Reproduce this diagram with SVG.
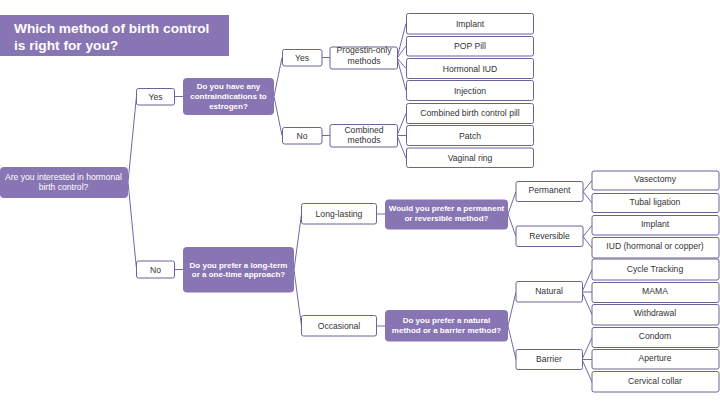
<svg xmlns="http://www.w3.org/2000/svg" width="720" height="405" viewBox="0 0 720 405">
<style>
.q{fill:#8875b3;}
.b{fill:#fff;stroke:#6e6199;stroke-width:1;}
.t{font-family:"Liberation Sans",Arial,sans-serif;font-size:8.6px;fill:#333;text-anchor:middle;}
.w{font-family:"Liberation Sans",Arial,sans-serif;font-size:8.6px;fill:#fff;text-anchor:middle;}
.wb{font-family:"Liberation Sans",Arial,sans-serif;font-size:8px;font-weight:bold;fill:#fff;text-anchor:middle;}
.title{font-family:"Liberation Sans",Arial,sans-serif;font-size:13.7px;font-weight:bold;fill:#fff;}
#connectors line{stroke:#7567a6;stroke-width:1;}
</style>
<rect width="720" height="405" fill="#fff"/>
<g id="title">
<rect x="0" y="15" width="229" height="41" class="q"/>
<text class="title" x="14" y="32.5">Which method of birth control</text>
<text class="title" x="14" y="50">is right for you?</text>
</g>
<g id="connectors">
<line x1="128" y1="182" x2="136.5" y2="96"/>
<line x1="128" y1="182" x2="136.5" y2="269"/>
<line x1="174" y1="96.5" x2="183" y2="96.5"/>
<line x1="174" y1="269.5" x2="183" y2="269.5"/>
<line x1="274" y1="96.5" x2="282" y2="57.5"/>
<line x1="274" y1="96.5" x2="282" y2="135.5"/>
<line x1="322" y1="57.5" x2="330" y2="57.5"/>
<line x1="322" y1="135.5" x2="330" y2="135.5"/>
<line x1="397" y1="58" x2="406" y2="23.5"/>
<line x1="397" y1="58" x2="406" y2="46"/>
<line x1="397" y1="58" x2="406" y2="68.5"/>
<line x1="397" y1="58" x2="406" y2="90.5"/>
<line x1="397" y1="135.5" x2="406" y2="113.5"/>
<line x1="397" y1="135.5" x2="406" y2="135.5"/>
<line x1="397" y1="135.5" x2="406" y2="158"/>
<line x1="294" y1="270" x2="301.5" y2="214"/>
<line x1="294" y1="270" x2="301.5" y2="326"/>
<line x1="376.5" y1="214" x2="385" y2="214"/>
<line x1="376.5" y1="326" x2="385" y2="326"/>
<line x1="508" y1="214" x2="516" y2="191.5"/>
<line x1="508" y1="214" x2="516" y2="236.5"/>
<line x1="508" y1="326" x2="516" y2="292"/>
<line x1="508" y1="326" x2="516" y2="359.5"/>
<line x1="583" y1="191.5" x2="592" y2="180.5"/>
<line x1="583" y1="191.5" x2="592" y2="203"/>
<line x1="583" y1="236.5" x2="592" y2="225.5"/>
<line x1="583" y1="236.5" x2="592" y2="248"/>
<line x1="582" y1="292" x2="592" y2="269.5"/>
<line x1="582" y1="292" x2="592" y2="292"/>
<line x1="582" y1="292" x2="592" y2="314.5"/>
<line x1="582" y1="359.5" x2="592" y2="337.5"/>
<line x1="582" y1="359.5" x2="592" y2="359.5"/>
<line x1="582" y1="359.5" x2="592" y2="382"/>
</g>
<g id="root">
<rect x="0" y="167" width="128" height="31" rx="4" class="q"/>
<text class="w" x="63.5" y="179.7">Are you interested in hormonal</text>
<text class="w" x="63.5" y="189.7">birth control?</text>
</g>
<g id="yes1"><rect x="136.5" y="88.5" width="38" height="16.5" rx="2" class="b"/><text class="t" x="155.5" y="99.7">Yes</text></g>
<g id="no1"><rect x="136.5" y="261" width="38" height="17" rx="2" class="b"/><text class="t" x="155.5" y="272.7">No</text></g>
<g id="q1">
<rect x="183" y="78" width="91" height="37" rx="4" class="q"/>
<text class="wb" x="228.5" y="88.6">Do you have any</text>
<text class="wb" x="228.5" y="98.6">contraindications to</text>
<text class="wb" x="228.5" y="108.6">estrogen?</text>
</g>
<g id="q2">
<rect x="183" y="247" width="111" height="45.5" rx="4" class="q"/>
<text class="wb" x="238.5" y="267.9">Do you prefer a long-term</text>
<text class="wb" x="238.5" y="277.4">or a one-time approach?</text>
</g>
<g id="yes2"><rect x="282.5" y="49.5" width="39.5" height="16.5" rx="2" class="b"/><text class="t" x="302" y="60.7">Yes</text></g>
<g id="no2"><rect x="282.5" y="127.5" width="39.5" height="16.5" rx="2" class="b"/><text class="t" x="302" y="138.7">No</text></g>
<g id="progestin">
<rect x="330" y="47" width="67.5" height="22" rx="2" class="b"/>
<text class="t" x="364" y="53">Progestin-only</text>
<text class="t" x="364" y="64">methods</text>
</g>
<g id="combined">
<rect x="330" y="124.5" width="67.5" height="22.5" rx="2" class="b"/>
<text class="t" x="364" y="133">Combined</text>
<text class="t" x="364" y="143">methods</text>
</g>
<g id="implant1"><rect x="406.5" y="13.5" width="127" height="20.5" rx="2" class="b"/><text class="t" x="470" y="26.7">Implant</text></g>
<g id="pop"><rect x="406.5" y="36.5" width="127" height="19.5" rx="2" class="b"/><text class="t" x="470" y="49.2">POP Pill</text></g>
<g id="hiud"><rect x="406.5" y="58.5" width="127" height="20" rx="2" class="b"/><text class="t" x="470" y="71.5">Hormonal IUD</text></g>
<g id="injection"><rect x="406.5" y="80.5" width="127" height="20" rx="2" class="b"/><text class="t" x="470" y="93.5">Injection</text></g>
<g id="cbcp"><rect x="406.5" y="103.5" width="127" height="20" rx="2" class="b"/><text class="t" x="470" y="116.2">Combined birth control pill</text></g>
<g id="patch"><rect x="406.5" y="125.5" width="127" height="20" rx="2" class="b"/><text class="t" x="470" y="138.5">Patch</text></g>
<g id="ring"><rect x="406.5" y="148" width="127" height="19.5" rx="2" class="b"/><text class="t" x="470" y="160.7">Vaginal ring</text></g>
<g id="longlasting"><rect x="301.5" y="203.5" width="75" height="20.5" rx="2" class="b"/><text class="t" x="339" y="216.7">Long-lasting</text></g>
<g id="occasional"><rect x="301.5" y="315.5" width="75" height="20.5" rx="2" class="b"/><text class="t" x="339" y="328.7">Occasional</text></g>
<g id="q3">
<rect x="385" y="199.5" width="123" height="30" rx="4" class="q"/>
<text class="wb" x="446.5" y="210.6">Would you prefer a permanent</text>
<text class="wb" x="446.5" y="220.6">or reversible method?</text>
</g>
<g id="q4">
<rect x="385" y="310" width="123" height="31.5" rx="4" class="q"/>
<text class="wb" x="446.5" y="322.9">Do you prefer a natural</text>
<text class="wb" x="446.5" y="332.9">method or a barrier method?</text>
</g>
<g id="permanent"><rect x="516" y="181.5" width="67" height="20" rx="2" class="b"/><text class="t" x="549.5" y="193">Permanent</text></g>
<g id="reversible"><rect x="516" y="226" width="67" height="20.5" rx="2" class="b"/><text class="t" x="549.5" y="238.7">Reversible</text></g>
<g id="natural"><rect x="516" y="281.5" width="66.5" height="20.5" rx="2" class="b"/><text class="t" x="549" y="294">Natural</text></g>
<g id="barrier"><rect x="516" y="349.5" width="66.5" height="20" rx="2" class="b"/><text class="t" x="549" y="361.7">Barrier</text></g>
<g id="vasectomy"><rect x="592" y="171" width="127" height="19" rx="2" class="b"/><text class="t" x="655" y="182.2">Vasectomy</text></g>
<g id="tubal"><rect x="592" y="193.5" width="127" height="19" rx="2" class="b"/><text class="t" x="655" y="204.7">Tubal ligation</text></g>
<g id="implant2"><rect x="592" y="215.5" width="127" height="19.5" rx="2" class="b"/><text class="t" x="655" y="226.7">Implant</text></g>
<g id="iud"><rect x="592" y="237.5" width="127" height="20.5" rx="2" class="b"/><text class="t" x="655" y="249">IUD (hormonal or copper)</text></g>
<g id="cycle"><rect x="592" y="259" width="127" height="21" rx="2" class="b"/><text class="t" x="655" y="271.7">Cycle Tracking</text></g>
<g id="mama"><rect x="592" y="282.5" width="127" height="20" rx="2" class="b"/><text class="t" x="655" y="293.7">MAMA</text></g>
<g id="withdrawal"><rect x="592" y="304.5" width="127" height="20.5" rx="2" class="b"/><text class="t" x="655" y="316">Withdrawal</text></g>
<g id="condom"><rect x="592" y="327.5" width="127" height="20" rx="2" class="b"/><text class="t" x="655" y="339">Condom</text></g>
<g id="aperture"><rect x="592" y="349.5" width="127" height="19.5" rx="2" class="b"/><text class="t" x="655" y="361">Aperture</text></g>
<g id="cervical"><rect x="592" y="371.5" width="127" height="20.5" rx="2" class="b"/><text class="t" x="655" y="383.7">Cervical collar</text></g>
</svg>
